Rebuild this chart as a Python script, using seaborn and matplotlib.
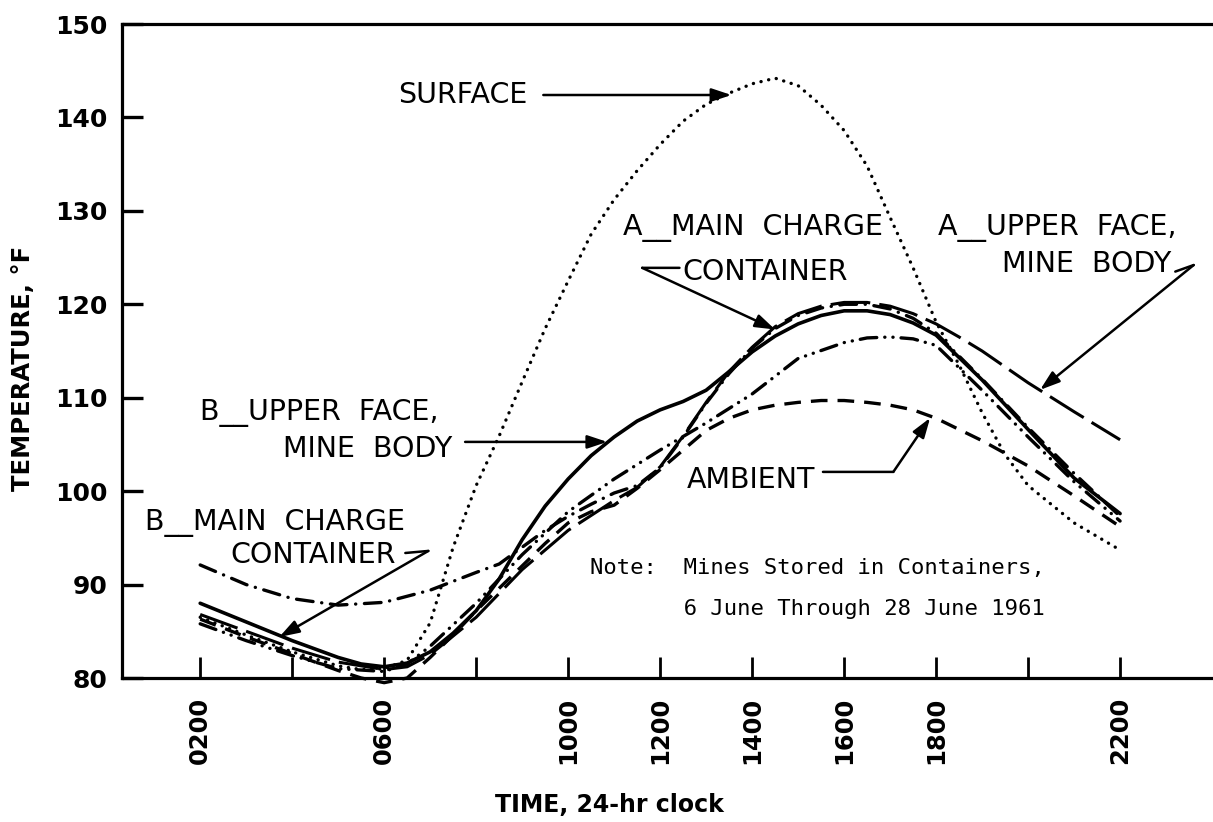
import matplotlib
matplotlib.use("Agg")
import matplotlib.pyplot as plt
import seaborn as sns
import pandas as pd

# ---- data: time of day (hours) and temperature (deg F) ----
surface_h = [2, 3, 4, 5, 5.5, 6, 6.5, 7, 7.5, 8, 8.5, 9, 9.5, 10, 10.5, 11, 11.5, 12,
             12.5, 13, 13.5, 14, 14.5, 15, 15.5, 16, 16.5, 17, 17.5, 18, 18.5, 19,
             19.5, 20, 21, 22]
surface_t = [86.5, 84.6, 82.8, 81.3, 80.9, 81.0, 81.9, 85.9, 94.0, 100.6, 105.9, 111.7,
             117.4, 122.5, 127.5, 131.2, 134.3, 137.1, 139.6, 141.4, 142.6, 143.6, 144.2,
             143.4, 141.3, 138.6, 134.8, 129.3, 123.9, 118.1, 113.5, 108.4, 103.9, 100.6,
             96.6, 93.7]

b_upper_h = [2, 3, 4, 5, 5.5, 6, 6.5, 7, 7.5, 8, 8.5, 9, 9.5, 10, 10.5, 11, 11.5, 12,
             12.5, 13, 13.5, 14, 14.5, 15, 15.5, 16, 16.5, 17, 17.5, 18, 19, 20, 21, 22]
b_upper_t = [88.0, 86.0, 84.0, 82.2, 81.5, 81.2, 81.6, 82.8, 84.8, 87.2, 90.6, 94.8,
             98.4, 101.3, 103.8, 105.8, 107.5, 108.7, 109.6, 110.8, 112.8, 114.9, 116.6,
             117.9, 118.8, 119.3, 119.3, 118.9, 118.0, 116.7, 111.9, 106.6, 101.4, 97.6]

a_charge_h = [2, 3, 4, 5, 6, 7, 8, 8.5, 9, 9.5, 10, 10.5, 11, 11.5, 12, 12.5, 13, 13.5,
              14, 14.5, 15, 15.5, 16, 16.5, 17, 17.5, 18, 19, 20, 21, 22]
a_charge_t = [92.1, 90.0, 88.5, 87.8, 88.1, 89.4, 91.3, 92.2, 94.0, 95.8, 97.3, 98.6,
              99.8, 100.6, 102.5, 105.8, 109.4, 112.6, 115.3, 117.4, 118.8, 119.6, 120.0,
              120.0, 119.5, 118.5, 116.9, 112.0, 106.8, 101.9, 97.3]

a_upper_h = [2, 3, 4, 5, 6, 6.5, 7, 8, 9, 10, 11, 11.5, 12, 12.5, 13, 13.5, 14, 14.5,
             15, 15.5, 16, 16.5, 17, 17.5, 18, 18.5, 19, 19.5, 20, 21, 22]
a_upper_t = [86.8, 85.0, 83.2, 81.7, 80.9, 81.2, 82.5, 86.5, 91.6, 95.8, 99.0, 100.4,
             102.6, 105.9, 109.5, 112.8, 115.4, 117.6, 119.0, 119.8, 120.2, 120.2, 119.8,
             119.0, 117.9, 116.5, 115.0, 113.3, 111.6, 108.5, 105.5]

b_charge_h = [2, 3, 4, 5, 6, 6.5, 7, 8, 9, 10, 11, 12, 13, 14, 15, 16, 16.5, 17, 17.5,
              18, 19, 20, 21, 22]
b_charge_t = [85.8, 84.0, 82.4, 81.0, 80.7, 81.5, 83.4, 88.0, 93.2, 97.8, 101.3, 104.4,
              107.3, 110.4, 114.2, 115.9, 116.4, 116.5, 116.3, 115.6, 110.8, 105.8, 101.0,
              96.8]

ambient_h = [2, 3, 4, 5, 5.5, 6, 6.5, 7, 7.5, 8, 8.5, 9, 9.5, 10, 10.5, 11, 11.5, 12,
             12.5, 13, 13.5, 14, 14.5, 15, 15.5, 16, 16.5, 17, 17.5, 18, 19, 20, 21, 22]
ambient_t = [86.3, 84.4, 82.6, 80.8, 80.0, 79.5, 80.0, 82.2, 84.6, 87.2, 89.6, 92.0,
             94.4, 96.6, 97.8, 98.5, 100.3, 102.3, 104.4, 106.5, 107.8, 108.7, 109.2,
             109.5, 109.7, 109.7, 109.5, 109.2, 108.7, 107.8, 105.4, 102.7, 99.5, 96.2]

tick_hours = [2, 4, 6, 8, 10, 12, 14, 16, 18, 20, 22]
tick_names = ["0200", "", "0600", "", "1000", "1200", "1400", "1600", "1800", "", "2200"]
temp_ticks = [80, 90, 100, 110, 120, 130, 140, 150]

sns.set_theme(style="white")
plt.rcParams["font.family"] = ["DejaVu Sans"]
plt.rcParams["text.color"] = "black"
plt.rcParams["axes.labelcolor"] = "black"

fig = plt.figure(figsize=(12.13, 8.22), dpi=100)
ax = fig.add_axes([122 / 1213, 144 / 822, 1091 / 1213, 654 / 822])

series = [
    ("Surface", surface_h, surface_t,
     dict(lw=2.4, linestyle=(0, (0.05, 2.3)), dash_capstyle="round")),
    ("Ambient", ambient_h, ambient_t,
     dict(lw=2.4, linestyle=(0, (5, 3)), dash_capstyle="butt")),
    ("A upper face, mine body", a_upper_h, a_upper_t,
     dict(lw=2.2, linestyle=(0, (13, 3)), dash_capstyle="butt")),
    ("B main charge container", b_charge_h, b_charge_t,
     dict(lw=2.4, linestyle=(0, (5, 2.4, 0.05, 2.4, 0.05, 2.4)), dash_capstyle="round")),
    ("A main charge container", a_charge_h, a_charge_t,
     dict(lw=2.4, linestyle=(0, (5, 2.6, 0.05, 2.6)), dash_capstyle="round")),
    ("B upper face, mine body", b_upper_h, b_upper_t,
     dict(lw=2.6, linestyle="-", solid_capstyle="round")),
]

for name, hh, tt, style in series:
    df = pd.DataFrame({"hour": hh, "temp": tt})
    sns.lineplot(data=df, x="hour", y="temp", ax=ax, color="black",
                 errorbar=None, clip_on=False, **style)

ax.set_xlim(0.3, 24.02)
ax.set_ylim(80, 150)
ax.set_xticks(tick_hours)
ax.set_xticklabels(tick_names, rotation=90, fontsize=17.5, fontweight="bold")
ax.set_yticks(temp_ticks)
ax.set_yticklabels([str(v) for v in temp_ticks], fontsize=18, fontweight="bold")
ax.tick_params(axis="x", which="major", bottom=True, top=False, direction="in",
               length=15, width=2.0, pad=13.5, colors="black")
ax.tick_params(axis="y", which="major", left=True, right=False, direction="in",
               length=15, width=2.4, pad=10.5, colors="black")
ax.grid(False)

for side in ("left", "bottom", "top"):
    ax.spines[side].set_color("black")
    ax.spines[side].set_linewidth(2.3)
ax.spines["right"].set_visible(False)

ax.set_xlabel("TIME, 24-hr clock", fontsize=17, fontweight="bold", va="center",
              color="black")
ax.xaxis.set_label_coords(0.447, -0.194)
ax.set_ylabel("TEMPERATURE, \u00b0F", fontsize=17.5, fontweight="bold", va="center",
              color="black")
ax.yaxis.set_label_coords(-0.0907, 0.474)

# ---- curve labels with leader arrows ----
lab = dict(fontsize=20.5, color="black", ha="left", va="baseline")
arrow = dict(arrowstyle="-|>,head_length=0.6,head_width=0.2", lw=1.8, color="black",
             mutation_scale=20, shrinkA=0, shrinkB=0)
plain = dict(arrowstyle="-", lw=1.8, color="black", shrinkA=0, shrinkB=0)

ax.text(6.30, 141.56, "SURFACE", **lab)
ax.annotate("", xy=(13.55, 142.4), xytext=(9.46, 142.4), arrowprops=arrow)

ax.text(11.20, 127.43, "A__MAIN  CHARGE", **lab)
ax.text(12.48, 122.61, "CONTAINER", **lab)
ax.annotate("", xy=(11.61, 123.9), xytext=(12.42, 123.9), arrowprops=plain)
ax.annotate("", xy=(14.50, 117.3), xytext=(11.61, 123.9), arrowprops=arrow)

ax.text(18.04, 127.43, "A__UPPER  FACE,", **lab)
ax.text(19.43, 123.47, "MINE  BODY", **lab)
ax.annotate("", xy=(23.60, 124.2), xytext=(23.20, 123.5), arrowprops=plain)
ax.annotate("", xy=(20.26, 110.84), xytext=(23.60, 124.2), arrowprops=arrow)

ax.text(2.00, 107.62, "B__UPPER  FACE,", **lab)
ax.text(3.80, 103.66, "MINE  BODY", **lab)
ax.annotate("", xy=(10.85, 105.27), xytext=(7.76, 105.27), arrowprops=arrow)

ax.text(0.80, 95.85, "B__MAIN  CHARGE", **lab)
ax.text(2.65, 92.31, "CONTAINER", **lab)
ax.annotate("", xy=(6.96, 93.6), xytext=(6.46, 93.38), arrowprops=plain)
ax.annotate("", xy=(3.72, 84.39), xytext=(6.96, 93.6), arrowprops=arrow)

ax.text(12.59, 100.34, "AMBIENT", **lab)
ax.annotate("", xy=(17.07, 102.06), xytext=(15.54, 102.06), arrowprops=plain)
ax.annotate("", xy=(17.87, 107.84), xytext=(17.07, 102.06), arrowprops=arrow)

note = dict(fontsize=16, family="DejaVu Sans Mono", color="black", ha="left", va="baseline")
ax.text(10.48, 91.1, "Note:  Mines Stored in Containers,", **note)
ax.text(10.48, 86.75, "       6 June Through 28 June 1961", **note)

fig.savefig("out.png", dpi=100, facecolor="white")
